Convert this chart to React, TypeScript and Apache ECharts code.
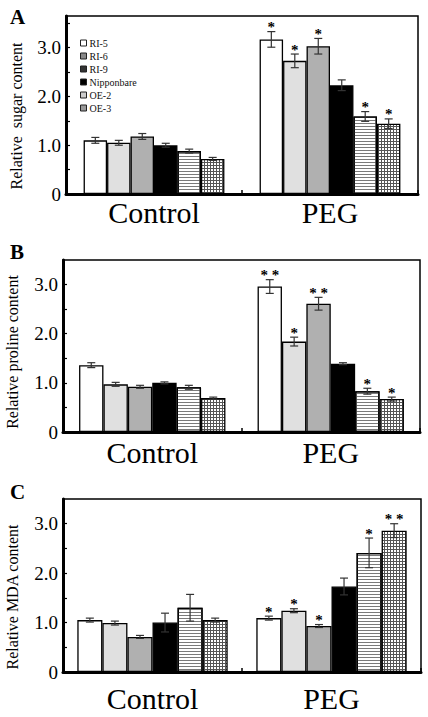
import React, { useEffect, useRef } from "react";
import * as echarts from "echarts";

const categories = ["Control", "PEG"];
const seriesNames = ["RI-5", "RI-6", "RI-9", "Nipponbare", "OE-2", "OE-3"];
const yTickValues = [0, 1, 2, 3];

// Panel A: relative sugar content
const sugarControl = [1.1, 1.05, 1.18, 1.0, 0.88, 0.72];
const sugarControlErr = [0.06, 0.05, 0.06, 0.04, 0.04, 0.03];
const sugarPEG = [3.17, 2.73, 3.03, 2.23, 1.59, 1.44];
const sugarPEGErr = [0.16, 0.14, 0.16, 0.11, 0.1, 0.1];
const sugarStars = ["*", "*", "*", "", "*", "*"];

// Panel B: relative proline content
const prolineControl = [1.36, 0.97, 0.92, 1.0, 0.91, 0.69];
const prolineControlErr = [0.05, 0.04, 0.03, 0.02, 0.04, 0.02];
const prolinePEG = [2.96, 1.84, 2.61, 1.39, 0.83, 0.67];
const prolinePEGErr = [0.14, 0.09, 0.13, 0.02, 0.06, 0.04];
const prolineStars = ["* *", "*", "* *", "", "*", "*"];

// Panel C: relative MDA content
const mdaControl = [1.05, 0.99, 0.71, 1.0, 1.3, 1.05];
const mdaControlErr = [0.04, 0.04, 0.03, 0.19, 0.27, 0.04];
const mdaPEG = [1.09, 1.24, 0.93, 1.73, 2.41, 2.86];
const mdaPEGErr = [0.04, 0.04, 0.03, 0.17, 0.3, 0.14];
const mdaStars = ["*", "*", "*", "", "*", "* *"];

const FONT = "Liberation Serif, Times New Roman, serif";

const panels = [
  { label: "A", yName: "Relative  sugar content", ctrl: sugarControl, ctrlErr: sugarControlErr, peg: sugarPEG, pegErr: sugarPEGErr, stars: sugarStars },
  { label: "B", yName: "Relative proline content", ctrl: prolineControl, ctrlErr: prolineControlErr, peg: prolinePEG, pegErr: prolinePEGErr, stars: prolineStars },
  { label: "C", yName: "Relative MDA content", ctrl: mdaControl, ctrlErr: mdaControlErr, peg: mdaPEG, pegErr: mdaPEGErr, stars: mdaStars },
];

const layout = [
  { left: 66, right: 10, top: 16, height: 178, max: 3.65, gap: 0.2, labelMargin: 3, panelY: 6, nameX: 16, nameY: 116 },
  { left: 63, right: 8, top: 260, height: 172, max: 3.5, gap: 0.18, labelMargin: 5, panelY: 241, nameX: 12, nameY: 352 },
  { left: 63, right: 7, top: 499, height: 173, max: 3.5, gap: 0.16, labelMargin: 11, panelY: 481, nameX: 12, nameY: 597 },
];

function makeGridPattern(): string {
  const c = document.createElement("canvas");
  c.width = 3;
  c.height = 3;
  const ctx = c.getContext("2d")!;
  ctx.fillStyle = "#ffffff";
  ctx.fillRect(0, 0, 3, 3);
  ctx.fillStyle = "#555555";
  ctx.fillRect(0, 0, 3, 1);
  ctx.fillRect(0, 0, 1, 3);
  return c.toDataURL();
}

const fills = ["#ffffff", "#e0e0e0", "#b0b0b0", "#000000", "#ffffff", "#ffffff"];
const legendFills = ["#ffffff", "#888888", "#333333", "#000000", "#cccccc", "#999999"];

export default function App() {
  const ref = useRef<HTMLDivElement>(null);
  useEffect(() => {
    if (!ref.current) return;
    const chart = echarts.init(ref.current, null, { renderer: "svg" });
    const gridPattern = { image: makeGridPattern(), repeat: "repeat" };
    const lineDecal = { symbol: "rect", symbolSize: 1, color: "#7a7a7a", dashArrayX: [1, 0], dashArrayY: [1, 2], rotation: 0 };

    const grids: any[] = [];
    const xAxes: any[] = [];
    const yAxes: any[] = [];
    const series: any[] = [];
    const graphics: any[] = [];

    panels.forEach((p, g) => {
      const L = layout[g];
      grids.push({ left: L.left, right: L.right, top: L.top, height: L.height, show: true, borderColor: "#000", borderWidth: 1.5, containLabel: false });
      xAxes.push({
        type: "category", gridIndex: g, data: categories,
        axisLine: { show: true, lineStyle: { color: "#000", width: 3 } },
        axisTick: { show: true, inside: true, length: 4, lineStyle: { color: "#000", width: 1.5 } },
        axisLabel: { color: "#000", fontFamily: FONT, fontSize: 30, margin: L.labelMargin },
      });
      yAxes.push({
        type: "value", gridIndex: g, min: 0, max: L.max, interval: 0.5,
        axisLine: { show: true, lineStyle: { color: "#000", width: 3 } },
        axisTick: { show: true, inside: true, length: 4, lineStyle: { color: "#000", width: 1.2 } },
        splitLine: { show: false },
        axisLabel: {
          color: "#000", fontFamily: FONT, fontSize: 19, margin: 5, showMaxLabel: false,
          formatter: (v: number) => {
            const hit = yTickValues.find((t) => Math.abs(t - v) < 1e-6);
            if (hit === undefined) return "";
            return hit === 0 ? "0" : hit.toFixed(1);
          },
        },
      });

      seriesNames.forEach((name, s) => {
        const itemStyle: any = { color: fills[s], borderColor: "#000", borderWidth: 1.3 };
        if (s === 4) itemStyle.decal = lineDecal;
        if (s === 5) itemStyle.color = gridPattern;
        series.push({
          type: "bar", name, xAxisIndex: g, yAxisIndex: g,
          data: [p.ctrl[s], p.peg[s]],
          barGap: "0%", barCategoryGap: `${L.gap * 100}%`,
          itemStyle,
          emphasis: { disabled: true },
          z: 2,
        });
      });

      const errData: any[] = [];
      const starTexts: string[] = [];
      seriesNames.forEach((_, s) => {
        errData.push([0, s, p.ctrl[s] - p.ctrlErr[s], p.ctrl[s] + p.ctrlErr[s]]);
        starTexts.push("");
        errData.push([1, s, p.peg[s] - p.pegErr[s], p.peg[s] + p.pegErr[s]]);
        starTexts.push(p.stars[s]);
      });
      const gapFrac = L.gap;
      series.push({
        type: "custom", xAxisIndex: g, yAxisIndex: g, z: 5,
        encode: { x: 0, y: [2, 3] },
        data: errData,
        silent: true,
        itemStyle: { color: "#000" },
        renderItem: (params: any, api: any) => {
          const cat = api.value(0);
          const s = api.value(1);
          const lo = api.value(2);
          const hi = api.value(3);
          const band = api.size([1, 0])[0];
          const bw = (band * (1 - gapFrac)) / 6;
          const cx = api.coord([cat, 0])[0] + (s - 2.5) * bw;
          const yl = api.coord([cat, lo])[1];
          const yh = api.coord([cat, hi])[1];
          const cap = 4;
          const st = { stroke: "#333", lineWidth: 1.2 };
          const children: any[] = [
            { type: "line", shape: { x1: cx, y1: yl, x2: cx, y2: yh }, style: st },
            { type: "line", shape: { x1: cx - cap, y1: yh, x2: cx + cap, y2: yh }, style: st },
            { type: "line", shape: { x1: cx - cap, y1: yl, x2: cx + cap, y2: yl }, style: st },
          ];
          const star = starTexts[params.dataIndex];
          if (star) {
            children.push({
              type: "text",
              x: cx, y: yh + 3,
              style: { text: star, textAlign: "center", textVerticalAlign: "bottom", font: `bold 15px ${FONT}`, fill: "#000" },
            });
          }
          return { type: "group", children };
        },
      });

      graphics.push({
        type: "text", left: 10, top: L.panelY,
        style: { text: p.label, font: `bold 21px ${FONT}`, fill: "#000" },
      });
      graphics.push({
        type: "text", x: L.nameX, y: L.nameY, rotation: Math.PI / 2,
        style: { text: p.yName, font: `16px ${FONT}`, fill: "#000", textAlign: "center", textVerticalAlign: "middle" },
      });
    });

    chart.setOption({
      animation: false,
      grid: grids,
      xAxis: xAxes,
      yAxis: yAxes,
      series,
      graphic: graphics,
      legend: {
        orient: "vertical", left: 75, top: 33,
        itemWidth: 6, itemHeight: 6, itemGap: 3,
        selectedMode: false,
        icon: "rect",
        textStyle: { fontFamily: FONT, fontSize: 10, color: "#111", lineHeight: 10, padding: [0, 0, 0, -2] },
        data: seriesNames.map((n, i) => ({ name: n, itemStyle: { color: legendFills[i], borderColor: "#222", borderWidth: 1, decal: "none" } })),
      },
    });
    return () => chart.dispose();
  }, []);
  return <div ref={ref} style={{ position: "absolute", left: 0, top: 0, width: 428, height: 717 }} />;
}
